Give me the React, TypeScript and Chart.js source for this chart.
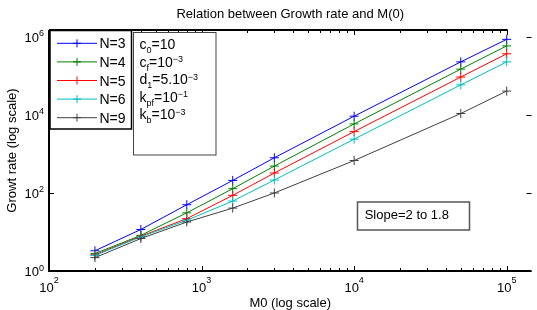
import React, { useEffect, useRef } from "react";
import { Chart, registerables } from "chart.js";

Chart.register(...registerables);

// ---- data ----
const mValues = [200, 400, 800, 1600, 3000, 10000, 50000, 100000];
const seriesLabels = ["N=3", "N=4", "N=5", "N=6", "N=9"];
const n3 = [3.3, 11.6, 50, 210, 800, 9300, 230000, 870000];
const n4 = [2.8, 8.2, 31, 129, 490, 5900, 150000, 590000];
const n5 = [2.6, 7.8, 22, 87, 325, 3750, 94000, 370000];
const n6 = [2.5, 7.5, 20, 62, 215, 2400, 59000, 230000];
const n9 = [2.2, 6.8, 18, 41, 100, 680, 10900, 41000];
const seriesValues = [n3, n4, n5, n6, n9];
const seriesColors = ["#0000ff", "#008000", "#ff0000", "#00bfbf", "#404040"];

const xTickExps = [2, 3, 4, 5];
const yTickExps = [0, 2, 4, 6];

const titleText = "Relation between Growth rate and M(0)";
const xTitle = "M0 (log scale)";
const yTitle = "Growt rate (log scale)";
const slopeText = "Slope=2 to 1.8";
// parameter box lines: [main, subscript, main, superscript]
const paramLines: [string, string, string, string][] = [
  ["c", "0", "=10", ""],
  ["c", "f", "=10", "\u22123"],
  ["d", "1", "=5.10", "\u22123"],
  ["k", "pf", "=10", "\u22121"],
  ["k", "b", "=10", "\u22123"],
];

const X_MIN = 100;
const X_MAX = 1.454e5;
const Y_MIN = 1;
const Y_MAX = 1.51e6;

const FONT = '"Liberation Sans", Arial, Helvetica, sans-serif';

const overlay = {
  id: "overlay",
  afterDraw(chart: any) {
    const ctx = chart.ctx as CanvasRenderingContext2D;
    const xs = chart.scales.x;
    const ys = chart.scales.y;
    const area = chart.chartArea;
    const L = area.left, R = area.right, T = area.top, B = area.bottom;
    ctx.save();
    ctx.fillStyle = "#000";
    ctx.strokeStyle = "#000";

    // axes lines
    ctx.lineWidth = 2;
    ctx.beginPath();
    ctx.moveTo(L, T);
    ctx.lineTo(L, B);
    ctx.lineTo(R, B);
    ctx.stroke();
    const topEnd = xs.getPixelForValue(Math.pow(10, 5));
    ctx.beginPath();
    ctx.moveTo(L, T);
    ctx.lineTo(topEnd + 1, T);
    ctx.stroke();

    // x ticks
    ctx.lineWidth = 1;
    for (let e = 2; e <= 5; e++) {
      for (let m = 1; m <= 9; m++) {
        const v = m * Math.pow(10, e);
        if (v > X_MAX) continue;
        const px = Math.round(xs.getPixelForValue(v)) + 0.5;
        const len = m === 1 ? 5 : 3;
        ctx.beginPath();
        ctx.moveTo(px, B);
        ctx.lineTo(px, B - len);
        ctx.moveTo(px, T);
        ctx.lineTo(px, T + len);
        ctx.stroke();
      }
    }
    // y ticks
    for (const e of yTickExps) {
      const py = Math.round(ys.getPixelForValue(Math.pow(10, e))) + 0.5;
      ctx.beginPath();
      ctx.moveTo(L, py);
      ctx.lineTo(L + 5, py);
      ctx.moveTo(R, py);
      ctx.lineTo(R - 5, py);
      ctx.stroke();
    }

    const mainFont = `13px ${FONT}`;
    const boxFont = `14px ${FONT}`;
    const supFont = `9px ${FONT}`;

    // x tick labels
    ctx.textBaseline = "alphabetic";
    for (const e of xTickExps) {
      const px = xs.getPixelForValue(Math.pow(10, e));
      ctx.font = mainFont;
      const w1 = ctx.measureText("10").width;
      ctx.font = supFont;
      const w2 = ctx.measureText(String(e)).width;
      const x0 = px - (w1 + w2) / 2;
      ctx.font = mainFont;
      ctx.textAlign = "left";
      ctx.fillText("10", x0, B + 21);
      ctx.font = supFont;
      ctx.fillText(String(e), x0 + w1, B + 12);
    }
    // y tick labels
    for (const e of yTickExps) {
      const py = ys.getPixelForValue(Math.pow(10, e));
      ctx.font = supFont;
      const w2 = ctx.measureText(String(e)).width;
      const xr = L - 5;
      ctx.textAlign = "left";
      ctx.fillText(String(e), xr - w2, py - 0.5);
      ctx.font = mainFont;
      ctx.textAlign = "right";
      ctx.fillText("10", xr - w2, py + 5.3);
    }

    // title & axis titles
    ctx.font = mainFont;
    ctx.textAlign = "center";
    ctx.fillText(titleText, (L + R) / 2, 18.3);
    ctx.fillText(xTitle, (L + R) / 2, 307);
    ctx.save();
    ctx.translate(16, (T + B) / 2);
    ctx.rotate(-Math.PI / 2);
    ctx.fillText(yTitle, 0, 0);
    ctx.restore();

    // legend box
    ctx.fillStyle = "#fff";
    ctx.fillRect(50, 30, 82, 99);
    ctx.strokeStyle = "#000";
    ctx.lineWidth = 1.5;
    ctx.strokeRect(50, 30.5, 81.5, 98.5);
    seriesLabels.forEach((lab, i) => {
      const base = 48.3 + i * 18.6;
      const cy = base - 5;
      ctx.strokeStyle = seriesColors[i];
      ctx.lineWidth = 1;
      ctx.beginPath();
      ctx.moveTo(57, cy);
      ctx.lineTo(97, cy);
      ctx.moveTo(77, cy - 4);
      ctx.lineTo(77, cy + 4);
      ctx.moveTo(73, cy);
      ctx.lineTo(81, cy);
      ctx.stroke();
      ctx.fillStyle = "#000";
      ctx.font = boxFont;
      ctx.textAlign = "left";
      ctx.fillText(lab, 99.5, base);
    });

    // parameter box
    ctx.fillStyle = "#fff";
    ctx.fillRect(133, 32, 83, 123);
    ctx.strokeStyle = "#444";
    ctx.lineWidth = 1;
    ctx.strokeRect(133.5, 32.5, 82.5, 122.5);
    ctx.fillStyle = "#000";
    ctx.textAlign = "left";
    paramLines.forEach((seg, i) => {
      const base = 49 + i * 17.5;
      let x = 139.5;
      ctx.font = boxFont;
      ctx.fillText(seg[0], x, base);
      x += ctx.measureText(seg[0]).width;
      ctx.font = supFont;
      ctx.fillText(seg[1], x, base + 4);
      x += ctx.measureText(seg[1]).width;
      ctx.font = boxFont;
      ctx.fillText(seg[2], x, base);
      x += ctx.measureText(seg[2]).width;
      if (seg[3]) {
        ctx.font = supFont;
        ctx.fillText(seg[3], x, base - 4.5);
      }
    });

    // slope box
    ctx.fillStyle = "#fff";
    ctx.fillRect(357.5, 202, 112, 28);
    ctx.strokeStyle = "#555";
    ctx.lineWidth = 1.5;
    ctx.strokeRect(357.5, 202, 112, 28);
    ctx.fillStyle = "#000";
    ctx.font = mainFont;
    ctx.textAlign = "left";
    ctx.fillText(slopeText, 364.7, 218.5);

    ctx.restore();
  },
};

export default function App() {
  const ref = useRef<HTMLCanvasElement | null>(null);
  useEffect(() => {
    if (!ref.current) return;
    const datasets = seriesLabels.map((lab, i) => ({
      label: lab,
      data: mValues.map((m, j) => ({ x: m, y: seriesValues[i][j] })),
      borderColor: seriesColors[i],
      backgroundColor: seriesColors[i],
      borderWidth: 1,
      pointStyle: "cross" as const,
      pointRadius: 4.5,
      pointBorderWidth: 1,
      pointBorderColor: seriesColors[i],
      tension: 0,
      fill: false,
      order: seriesLabels.length - i,
    }));
    const chart = new Chart(ref.current, {
      type: "line",
      data: { datasets },
      options: {
        responsive: false,
        animation: false,
        devicePixelRatio: 1,
        layout: { padding: { left: 49, right: 0, top: 30, bottom: 39 } },
        scales: {
          x: { type: "logarithmic", min: X_MIN, max: X_MAX, display: false },
          y: { type: "logarithmic", min: Y_MIN, max: Y_MAX, display: false },
        },
        plugins: {
          legend: { display: false },
          title: { display: false },
          tooltip: { enabled: false },
        },
      },
      plugins: [overlay],
    });
    return () => chart.destroy();
  }, []);
  return (
    <div style={{ position: "absolute", left: 0, top: 0, width: 537, height: 310, background: "#fff" }}>
      <canvas ref={ref} width={537} height={310} style={{ width: 537, height: 310 }} />
    </div>
  );
}
